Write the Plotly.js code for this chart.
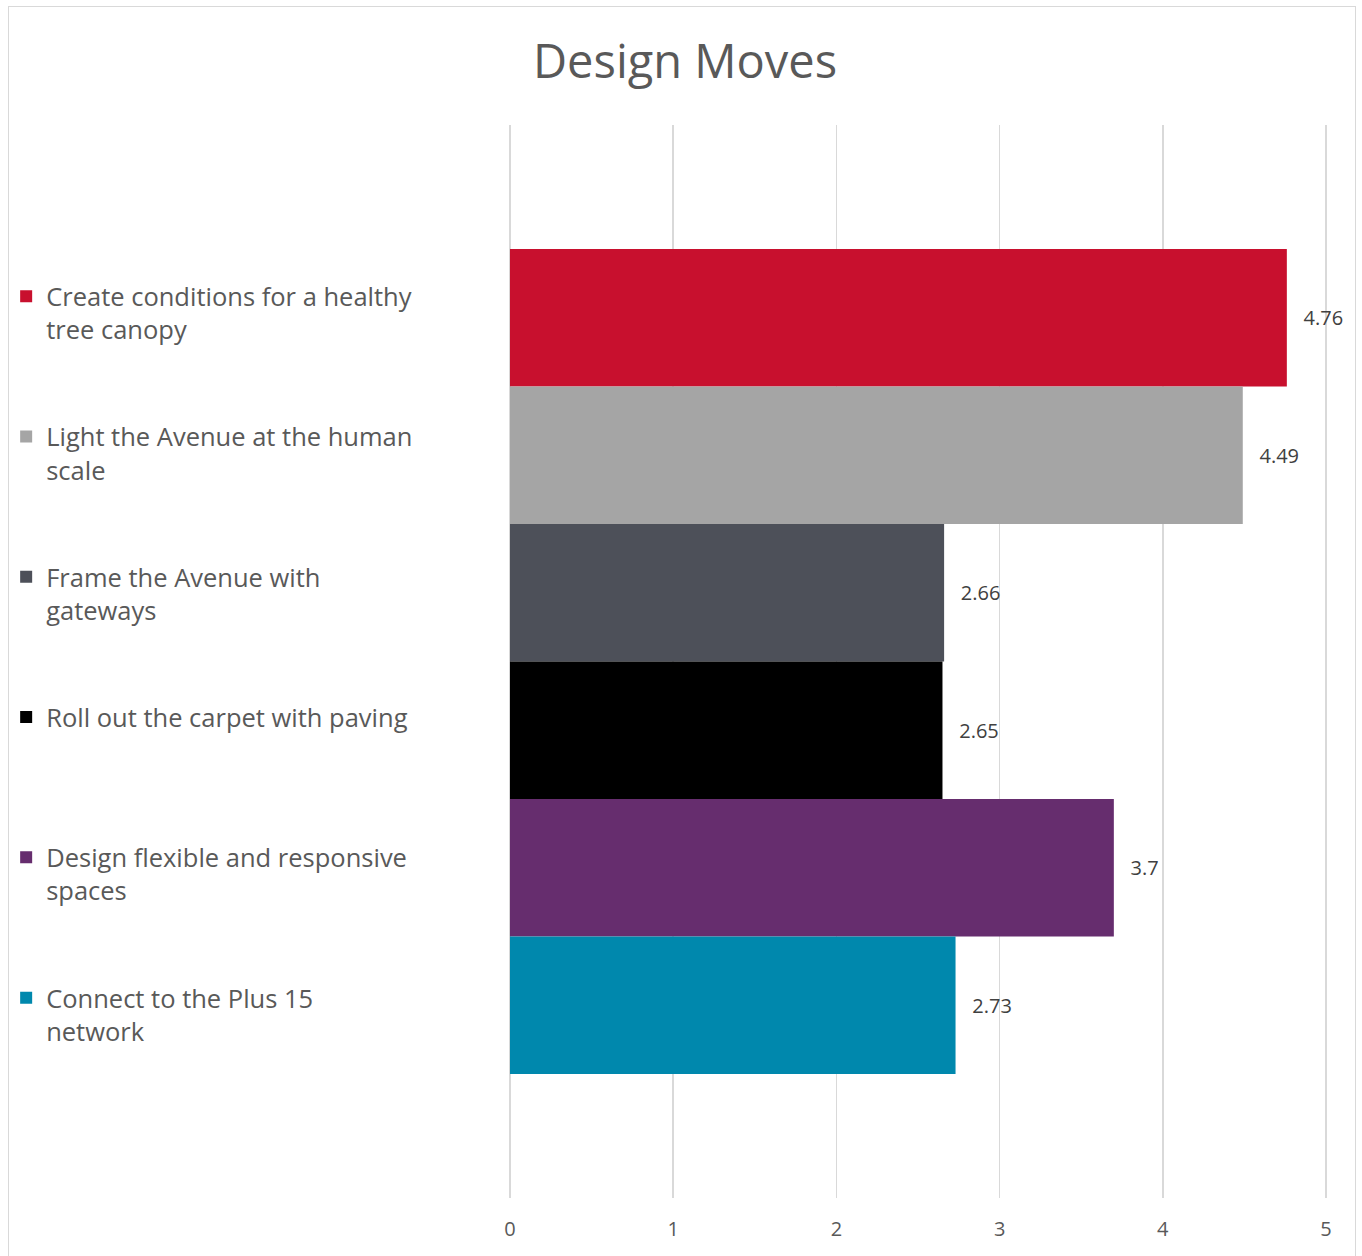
<!DOCTYPE html>
<html>
<head>
<meta charset="utf-8">
<script src="https://cdn.plot.ly/plotly-3.0.1.min.js"></script>
<style>
  html, body { margin: 0; padding: 0; background: #fff; }
  #frame { position: absolute; left: 8px; top: 6px; width: 1348px; height: 1260px; border: 1px solid #d9d9d9; box-sizing: border-box; }
  #chart { position: absolute; left: 0; top: 0; width: 1362px; height: 1256px; }
</style>
</head>
<body>
<div id="frame"></div>
<div id="chart"></div>
<script>
const seriesNames = [
  "Create conditions for a healthy<br>tree canopy",
  "Light the Avenue at the human<br>scale",
  "Frame the Avenue with<br>gateways",
  "Roll out the carpet with paving<br> ",
  "Design flexible and responsive<br>spaces",
  "Connect to the Plus 15<br>network"
];
const seriesValues = [4.76, 4.49, 2.66, 2.65, 3.7, 2.73];
const seriesColors = ["#C8102E", "#A5A5A5", "#4D5059", "#000000", "#662D6E", "#0088AD"];
const xTicks = [0, 1, 2, 3, 4, 5];

const traces = seriesNames.map((name, i) => ({
  type: "bar",
  orientation: "h",
  name: name,
  legendgroup: "g" + i,
  x: [seriesValues[i]],
  y: [0],
  marker: { color: seriesColors[i] },
  text: [String(seriesValues[i])],
  texttemplate: "\u00a0\u00a0\u2009%{text}",
  textposition: "outside",
  textfont: { family: "Open Sans, sans-serif", size: 20, color: "#404040" },
  cliponaxis: false,
  hoverinfo: "x+name"
}));

const layout = {
  width: 1362,
  height: 1256,
  paper_bgcolor: "rgba(0,0,0,0)",
  plot_bgcolor: "rgba(0,0,0,0)",
  margin: { l: 508, r: 34, t: 125, b: 58, autoexpand: false },
  title: {
    text: "Design Moves",
    font: { family: "Open Sans, sans-serif", size: 47, color: "#595959" },
    x: 0.503, xanchor: "center",
    y: 0.951, yanchor: "middle"
  },
  barmode: "group",
  bargap: 0.231,
  bargroupgap: 0,
  xaxis: {
    range: [-0.0122, 5.0122],
    tickvals: xTicks,
    ticktext: xTicks.map(String),
    showgrid: true,
    gridcolor: "#d9d9d9",
    gridwidth: 1.5,
    zeroline: false,
    showline: false,
    ticks: "",
    ticklabelstandoff: 17,
    tickfont: { family: "Open Sans, sans-serif", size: 20, color: "#595959" },
    fixedrange: true
  },
  yaxis: {
    range: [0.5, -0.5],
    showticklabels: false,
    showgrid: false,
    zeroline: false,
    showline: false,
    ticks: "",
    fixedrange: true
  },
  showlegend: true,
  legend: {
    x: -0.612, xanchor: "left",
    y: 0.862, yanchor: "top",
    traceorder: "grouped",
    tracegroupgap: 71,
    valign: "top",
    font: { family: "Open Sans, sans-serif", size: 25.5, color: "#595959" },
    bgcolor: "rgba(0,0,0,0)"
  }
};

Plotly.newPlot("chart", traces, layout, { displayModeBar: false, staticPlot: true });
</script>
</body>
</html>
